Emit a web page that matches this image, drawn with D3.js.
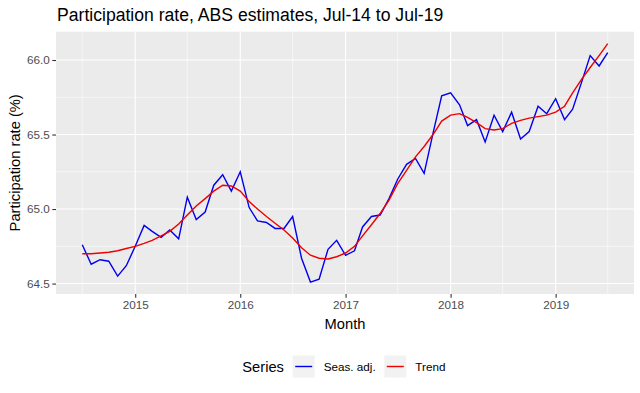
<!DOCTYPE html>
<html>
<head>
<meta charset="utf-8">
<script src="https://cdn.jsdelivr.net/npm/d3@7"></script>
<style>
  body { margin: 0; background: #fff; }
  text { font-family: "Liberation Sans", Arial, sans-serif; }
</style>
</head>
<body>
<svg id="main" width="640" height="393"></svg>
<script>
// monthly series, Jul-14 .. Jul-19
var firstMonth = new Date(2014, 6, 1);
var lastMonth = new Date(2019, 6, 1);

var seasAdj = [64.76, 64.63, 64.66, 64.65, 64.55, 64.62, 64.75, 64.89, 64.85, 64.81, 64.86, 64.80,
  65.08, 64.93, 64.98, 65.16, 65.23, 65.12, 65.25, 65.01, 64.92, 64.91, 64.87, 64.87,
  64.95, 64.67, 64.51, 64.53, 64.73, 64.79, 64.69, 64.72, 64.88, 64.95, 64.96, 65.07,
  65.20, 65.30, 65.34, 65.24, 65.51, 65.76, 65.78, 65.70, 65.56, 65.60, 65.45, 65.63,
  65.52, 65.65, 65.47, 65.52, 65.69, 65.64, 65.74, 65.60, 65.67, 65.85, 66.03, 65.96, 66.05];

var trend = [64.70, 64.70, 64.705, 64.71, 64.72, 64.735, 64.75, 64.77, 64.79, 64.82, 64.85, 64.90,
  64.96, 65.02, 65.07, 65.12, 65.16, 65.155, 65.12, 65.05, 65.00, 64.95, 64.905, 64.86,
  64.805, 64.74, 64.69, 64.67, 64.665, 64.68, 64.705, 64.75, 64.82, 64.895, 64.97, 65.06,
  65.17, 65.26, 65.35, 65.42, 65.50, 65.59, 65.63, 65.64, 65.615, 65.58, 65.54, 65.53,
  65.54, 65.575, 65.595, 65.61, 65.62, 65.63, 65.65, 65.69, 65.78, 65.87, 65.95, 66.03, 66.11];

var seriesNames = ["Seas. adj.", "Trend"];
var seriesColors = ["#0000ee", "#ee0000"];
var yTicks = [64.5, 65.0, 65.5, 66.0];
var yMinor = [64.75, 65.25, 65.75];
var xYears = [2015, 2016, 2017, 2018, 2019];
var xMinorYears = [2014.5, 2015.5, 2016.5, 2017.5, 2018.5, 2019.5];

var months = d3.timeMonth.range(firstMonth, d3.timeMonth.offset(lastMonth, 1));

var panel = {left: 56, right: 634, top: 31.7, bottom: 294};
var svg = d3.select("svg#main");

// ggplot style 5% expansion
var xPad = (lastMonth - firstMonth) * 0.05;
var x = d3.scaleTime()
  .domain([new Date(+firstMonth - xPad), new Date(+lastMonth + xPad)])
  .range([panel.left, panel.right]);

var allVals = seasAdj.concat(trend);
var yLo = d3.min(allVals), yHi = d3.max(allVals), yPad = (yHi - yLo) * 0.05;
var y = d3.scaleLinear()
  .domain([yLo - yPad, yHi + yPad])
  .range([panel.bottom, panel.top]);

function yearDate(v) {
  var yr = Math.floor(v);
  return new Date(yr, v % 1 ? 6 : 0, 1);
}

// panel
svg.append("rect")
  .attr("x", panel.left).attr("y", panel.top)
  .attr("width", panel.right - panel.left).attr("height", panel.bottom - panel.top)
  .attr("fill", "#ebebeb");

var grid = svg.append("g");
grid.selectAll("line.ymin").data(yMinor).enter().append("line")
  .attr("x1", panel.left).attr("x2", panel.right)
  .attr("y1", d => y(d)).attr("y2", d => y(d))
  .attr("stroke", "#fff").attr("stroke-width", 0.55);
grid.selectAll("line.xmin").data(xMinorYears).enter().append("line")
  .attr("y1", panel.top).attr("y2", panel.bottom)
  .attr("x1", d => x(yearDate(d))).attr("x2", d => x(yearDate(d)))
  .attr("stroke", "#fff").attr("stroke-width", 0.55);
grid.selectAll("line.ymaj").data(yTicks).enter().append("line")
  .attr("x1", panel.left).attr("x2", panel.right)
  .attr("y1", d => y(d)).attr("y2", d => y(d))
  .attr("stroke", "#fff").attr("stroke-width", 1.1);
grid.selectAll("line.xmaj").data(xYears).enter().append("line")
  .attr("y1", panel.top).attr("y2", panel.bottom)
  .attr("x1", d => x(yearDate(d))).attr("x2", d => x(yearDate(d)))
  .attr("stroke", "#fff").attr("stroke-width", 1.1);

// axes
var yAxis = svg.append("g")
  .attr("transform", "translate(" + panel.left + ",0)")
  .call(d3.axisLeft(y).tickValues(yTicks).tickFormat(d3.format(".1f")).tickSize(3.7).tickPadding(2.5));
var xAxis = svg.append("g")
  .attr("transform", "translate(0," + panel.bottom + ")")
  .call(d3.axisBottom(x).tickValues(xYears.map(yearDate)).tickFormat(d3.timeFormat("%Y")).tickSize(3.7).tickPadding(3));
[xAxis, yAxis].forEach(function(a) {
  a.select(".domain").remove();
  a.selectAll(".tick line").attr("stroke", "#333").attr("stroke-width", 1.1);
  a.selectAll(".tick text").attr("fill", "#4d4d4d").style("font-size", "11.7px")
    .style("font-family", "'Liberation Sans', Arial, sans-serif");
});

// lines
var line = d3.line()
  .x((d, i) => x(months[i]))
  .y(d => y(d));

svg.append("path").datum(seasAdj)
  .attr("d", line).attr("fill", "none")
  .attr("stroke", seriesColors[0]).attr("stroke-width", 1.4);
svg.append("path").datum(trend)
  .attr("d", line).attr("fill", "none")
  .attr("stroke", seriesColors[1]).attr("stroke-width", 1.4);

// titles
svg.append("text").attr("x", 57).attr("y", 20.7)
  .style("font-size", "17.6px").text("Participation rate, ABS estimates, Jul-14 to Jul-19");

svg.append("text")
  .attr("transform", "translate(20," + ((panel.top + panel.bottom) / 2) + ") rotate(-90)")
  .attr("text-anchor", "middle").style("font-size", "14.7px")
  .text("Participation rate (%)");

svg.append("text").attr("x", (panel.left + panel.right) / 2).attr("y", 328.5)
  .attr("text-anchor", "middle").style("font-size", "14.7px").text("Month");

// legend
var legend = svg.append("g");
legend.append("text").attr("x", 242.3).attr("y", 371.7)
  .style("font-size", "14.7px").text("Series");

var keyX = [292.7, 384.3];
seriesNames.forEach(function(name, i) {
  var g = legend.append("g").attr("transform", "translate(" + keyX[i] + ",355.5)");
  g.append("rect").attr("width", 22).attr("height", 22).attr("fill", "#f2f2f2");
  g.append("line").attr("x1", 2.5).attr("x2", 19.5).attr("y1", 11).attr("y2", 11)
    .attr("stroke", seriesColors[i]).attr("stroke-width", 1.4);
  g.append("text").attr("x", 31).attr("y", 15.2)
    .style("font-size", "11.7px").text(name);
});
</script>
</body>
</html>
